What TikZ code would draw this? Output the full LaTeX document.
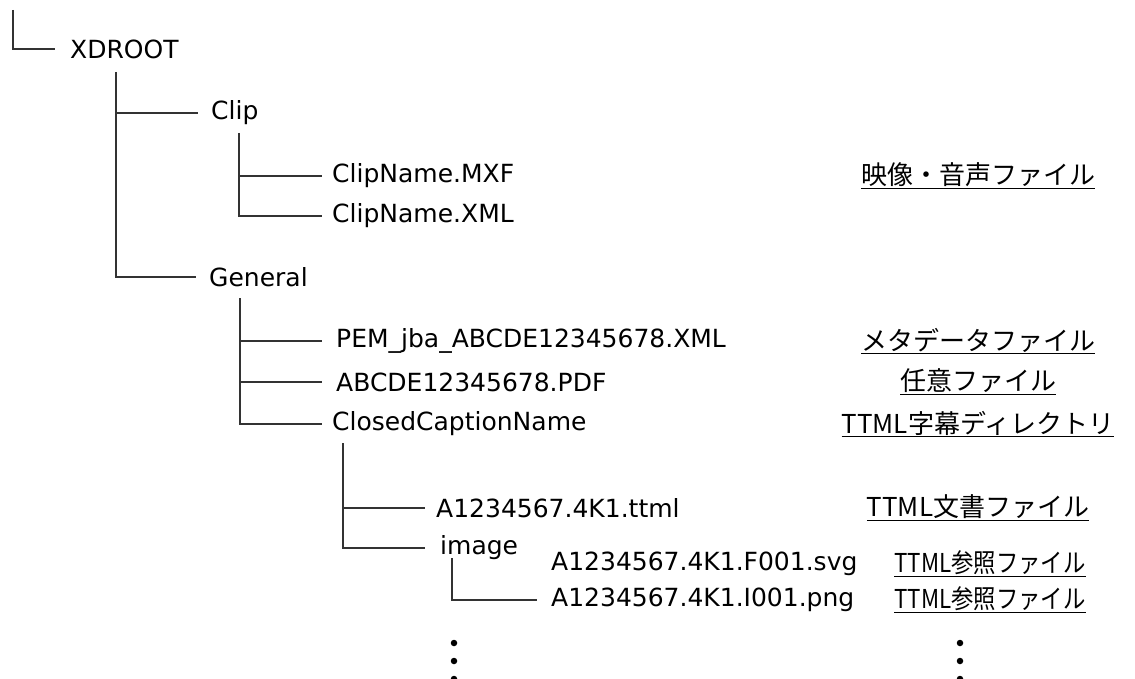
\documentclass[tikz,border=0pt]{standalone}
\usepackage{fontspec}
\setmainfont{DejaVu Sans}
\newfontfamily\jpfont{Noto Sans CJK JP}

\begin{document}
\begin{tikzpicture}[x=1pt, y=-1pt,
  entry/.style={anchor=west, inner sep=0pt, font=\fontsize{25}{30}\selectfont},
  note/.style={inner sep=0pt, font=\fontsize{26}{31}\selectfont\jpfont},
  branch/.style={draw=black!80, line width=1.2pt},
  dot/.style={circle, fill=black, inner sep=0pt, minimum size=6.5pt}]
\useasboundingbox (0,0) rectangle (1135,679);
\coordinate (top) at (13,10);
\node [entry] (xd) at (70,49) {XDROOT};
\coordinate (xdv) at (116,72);
\node [entry] (clip) at (211,113) {Clip};
\coordinate (clipv) at (239,133);
\node [entry] (mxf) at (332,176) {ClipName.MXF};
\node [entry] (xml) at (332,216) {ClipName.XML};
\node [entry] (gen) at (209,277) {General};
\coordinate (genv) at (240,298);
\node [entry] (pem) at (336,341) {PEM\_jba\_ABCDE12345678.XML};
\node [entry] (pdf) at (336,382) {ABCDE12345678.PDF};
\node [entry] (ccn) at (332,424) {ClosedCaptionName};
\coordinate (ccnv) at (343,443);
\node [entry] (ttml) at (436,508) {A1234567.4K1.ttml};
\node [entry] (img) at (440,548) {image};
\coordinate (imgv) at (452,558);
\node [entry] (svg) at (551,564) {A1234567.4K1.F001.svg};
\node [entry] (png) at (551,600) {A1234567.4K1.I001.png};

\node [note] (nmxf) at (978,176) {\underline{映像・音声ファイル}};
\node [note] (npem) at (978,341) {\underline{メタデータファイル}};
\node [note] (npdf) at (978,382) {\underline{任意ファイル}};
\node [note] (nccn) at (978,424) {\underline{TTML字幕ディレクトリ}};
\node [note] (nttml) at (978,508) {\underline{TTML文書ファイル}};
\node [note, xscale=0.86] (nsvg) at (990,564) {\underline{TTML参照ファイル}};
\node [note, xscale=0.86] (npng) at (990,600) {\underline{TTML参照ファイル}};

\foreach \y [count=\i] in {643,661,679} {
  \node [dot] (la\i) at (454,\y) {};
  \node [dot] (ra\i) at (960,\y) {};
}

\draw [branch] (top) |- ([xshift=-15]xd.west);
\draw [branch] (xdv) |- ([xshift=-13]gen.west);
\draw [branch] (xdv |- clip.west) -- ([xshift=-13]clip.west);
\draw [branch] (clipv) |- ([xshift=-10]xml.west);
\draw [branch] (clipv |- mxf.west) -- ([xshift=-10]mxf.west);
\draw [branch] (genv) |- ([xshift=-10]ccn.west);
\draw [branch] (genv |- pem.west) -- ([xshift=-14]pem.west);
\draw [branch] (genv |- pdf.west) -- ([xshift=-14]pdf.west);
\draw [branch] (ccnv) |- ([xshift=-15]img.west);
\draw [branch] (ccnv |- ttml.west) -- ([xshift=-11]ttml.west);
\draw [branch] (imgv) |- ([xshift=-14]png.west);
\end{tikzpicture}
\end{document}
